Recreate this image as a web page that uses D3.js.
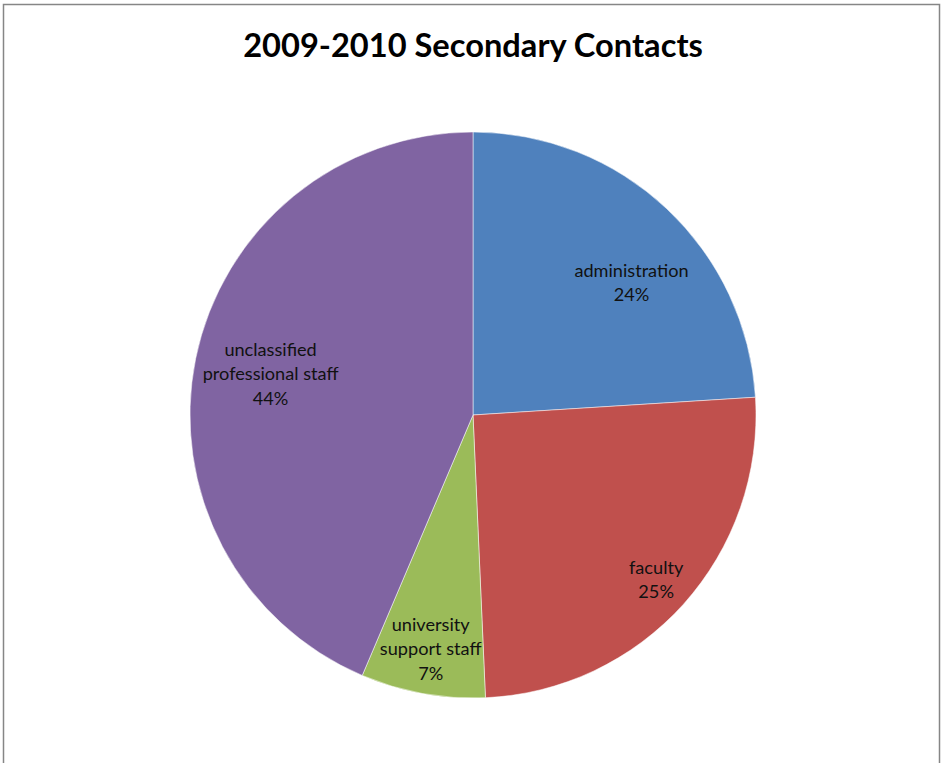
<!DOCTYPE html>
<html>
<head>
<meta charset="utf-8">
<script src="https://cdn.jsdelivr.net/npm/d3@7"></script>
<style>
  body { margin: 0; background: #fff; }
  svg { display: block; }
</style>
</head>
<body>
<svg id="chart"></svg>
<script>
// data
const categories = ["administration", "faculty", "university support staff", "unclassified professional staff"]
const shares = [24.0, 25.3, 7.1, 43.6]
const labelLines = [["administration"], ["faculty"], ["university", "support staff"], ["unclassified", "professional staff"]]
const colors = ["#4F81BD", "#C0504D", "#9BBB59", "#8064A2"]

const width = 942, height = 763
const cx = 473, cy = 415, radius = 283
// where excel put each label: fraction of the radius, and a turn (degrees) off the slice middle
const labelPos = [0.73, 0.87, 0.84, 0.73]
const labelTurn = [6.9, 0, 0, 0]
const font = "Lato, 'Open Sans', sans-serif"

const svg = d3.select("#chart").attr("width", width).attr("height", height)

// chart frame
svg.append("rect")
    .attr("x", 3.5).attr("y", 4.5)
    .attr("width", 936).attr("height", 780)
    .attr("fill", "#fff")
    .attr("stroke", "#868686")
    .attr("stroke-width", 1.5)

const title = svg.append("text")
    .attr("x", cx).attr("y", 57)
    .attr("text-anchor", "middle")
    .style("font-family", font)
    .style("font-weight", "bold")
    .style("font-size", "30px")
    .attr("fill", "#000")
    .text("2009-2010 Secondary Contacts")
// fit the title to the width seen in the picture
const tw = title.node().getComputedTextLength()
title.style("font-size", (30 * 460 / tw) + "px")

const total = d3.sum(shares)
const data = categories.map((c, i) => ({ category: c, value: shares[i], lines: labelLines[i], idx: i }))

const pie = d3.pie().value(d => d.value).sort(null)
const arc = d3.arc().innerRadius(0).outerRadius(radius)
const arcs = pie(data)

const g = svg.append("g").attr("transform", `translate(${cx},${cy})`)

g.selectAll("path")
    .data(arcs)
    .join("path")
    .attr("d", arc)
    .attr("fill", d => colors[d.data.idx])
    .attr("stroke", "#fff")
    .attr("stroke-opacity", 0.5)
    .attr("stroke-width", 1)

// measure label size
const probe = svg.append("text").style("font-family", font).style("font-size", "20px").text("professional staff")
const labelSize = 20 * 136 / probe.node().getComputedTextLength()
probe.remove()
const lineH = 24.5

const fmt = d3.format(".0%")

const labels = g.selectAll("g.lbl")
    .data(arcs)
    .join("g")
    .attr("class", "lbl")
    .attr("transform", d => {
        const r = radius * labelPos[d.data.idx]
        const a = (d.startAngle + d.endAngle) / 2 + labelTurn[d.data.idx] * Math.PI / 180
        return `translate(${r * Math.sin(a)},${-r * Math.cos(a)})`
    })

labels.each(function(d) {
    const lines = d.data.lines.concat([fmt(d.data.value / total)])
    const top = -(lines.length - 1) * lineH / 2
    d3.select(this).selectAll("text")
        .data(lines)
        .join("text")
        .attr("x", 0)
        .attr("y", (t, i) => top + i * lineH)
        .attr("dy", "0.35em")
        .attr("text-anchor", "middle")
        .style("font-family", font)
        .style("font-size", labelSize + "px")
        .attr("fill", "#111")
        .text(t => t)
})
</script>
</body>
</html>
